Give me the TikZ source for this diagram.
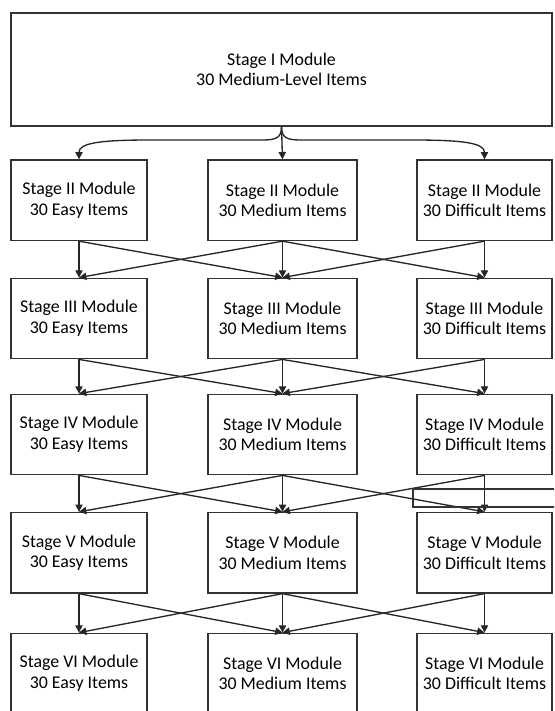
\documentclass[tikz,border=0pt]{standalone}
\usepackage{fontspec}
\setmainfont{Carlito}
\usetikzlibrary{arrows.meta}
\begin{document}
\begin{tikzpicture}[x=0.75pt,y=-0.75pt,
  box/.style={draw=black!80, line width=1pt, fill=white, align=center, inner sep=0pt,
    font=\fontsize{13.4pt}{15.5pt}\selectfont, minimum height=60.375pt},
  cola/.style={box, minimum width=102pt},
  colb/.style={box, minimum width=111.75pt},
  colc/.style={box, minimum width=101.25pt},
  arr/.style={draw=black!85, line width=1pt, -{Triangle[length=5.5pt,width=5.5pt]}},
  stray/.style={draw=black!80, line width=1pt}]
\useasboundingbox (0,0) rectangle (554,711);
\clip (0,0) rectangle (554,711);
\fill[white] (0,0) rectangle (554,711);

\node[box, minimum width=405.75pt, minimum height=84.75pt] (top) at (281.5,69.5)
  {Stage I Module\\30 Medium-Level Items};

\foreach \r/\y/\rn in {2/200.25/II, 3/318.5/III, 4/434.5/IV, 5/552.75/V, 6/673.5/VI} {
  \node[cola] (s\r a) at (79,\y)    {Stage \rn{} Module\\30 Easy Items};
  \node[colb] (s\r b) at (282.5,\y) {Stage \rn{} Module\\30 Medium Items};
  \node[colc] (s\r c) at (484.5,\y) {Stage \rn{} Module\\30 Difficult Items};
}

\draw[arr] (top.south) -- (s2b.north);
\draw[arr] (top.south) .. controls (281.5,138) and (276,140) .. (262,140) -- (150,140)
  .. controls (100,140) and (79,143) .. (s2a.north);
\draw[arr] (top.south) .. controls (281.5,138) and (287,140) .. (301,140) -- (413,140)
  .. controls (463,140) and (484.5,143) .. (s2c.north);

\foreach \r/\n in {2/3,3/4,4/5,5/6} {
  \draw[arr] (s\r a.south) -- (s\n a.north);
  \draw[arr] (s\r a.south) -- (s\n b.north);
  \draw[arr] (s\r b.south) -- (s\n a.north);
  \draw[arr] (s\r b.south) -- (s\n b.north);
  \draw[arr] (s\r b.south) -- (s\n c.north);
  \draw[arr] (s\r c.south) -- (s\n b.north);
  \draw[arr] (s\r c.south) -- (s\n c.north);
}

\draw[stray] (413,489) rectangle (570,507);
\end{tikzpicture}
\end{document}
